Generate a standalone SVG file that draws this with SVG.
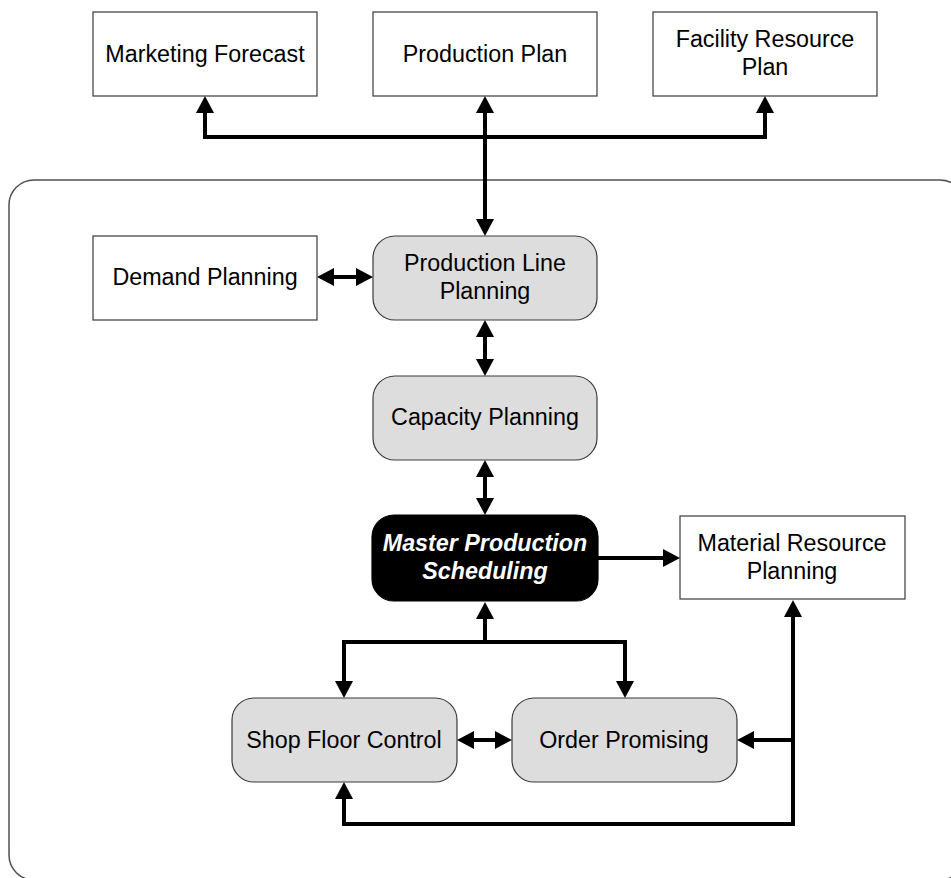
<svg xmlns="http://www.w3.org/2000/svg" width="951" height="878" viewBox="0 0 951 878">
  <style>
    .box { fill: #ffffff; stroke: #3a3a3a; stroke-width: 1.2; }
    .proc { fill: #dddddd; stroke: #3a3a3a; stroke-width: 1.2; }
    .core { fill: #000000; stroke: #000000; stroke-width: 1.2; }
    .lbl { font-family: "Liberation Sans", Arial, sans-serif; font-size: 23.3px; fill: #000000; text-anchor: middle; }
    .lbl-core { font-family: "Liberation Sans", Arial, sans-serif; font-size: 23.3px; font-weight: bold; font-style: italic; fill: #ffffff; text-anchor: middle; }
    .wire { fill: none; stroke: #000000; stroke-width: 4; stroke-linejoin: miter; }
  </style>
  <defs>
    <marker id="head" markerUnits="userSpaceOnUse" markerWidth="18" markerHeight="18" refX="1" refY="9" orient="auto-start-reverse">
      <path d="M0,0 L17,9 L0,18 z" fill="#000000"/>
    </marker>
  </defs>

  <!-- system boundary -->
  <rect id="boundary" x="9" y="180" width="956" height="700" rx="25" ry="25" fill="none" stroke="#505050" stroke-width="1.5"/>

  <!-- external plans -->
  <g id="marketing-forecast">
    <rect class="box" x="93" y="12" width="224" height="84"/>
    <text class="lbl" x="205" y="62">Marketing Forecast</text>
  </g>
  <g id="production-plan">
    <rect class="box" x="373" y="12" width="224" height="84"/>
    <text class="lbl" x="485" y="62">Production Plan</text>
  </g>
  <g id="facility-resource-plan">
    <rect class="box" x="653" y="12" width="224" height="84"/>
    <text class="lbl" x="765" y="47">Facility Resource</text>
    <text class="lbl" x="765" y="75">Plan</text>
  </g>

  <!-- planning functions -->
  <g id="demand-planning">
    <rect class="box" x="93" y="236" width="224" height="84"/>
    <text class="lbl" x="205" y="285">Demand Planning</text>
  </g>
  <g id="production-line-planning">
    <rect class="proc" x="373" y="236" width="224" height="84" rx="22" ry="22"/>
    <text class="lbl" x="485" y="271">Production Line</text>
    <text class="lbl" x="485" y="299">Planning</text>
  </g>
  <g id="capacity-planning">
    <rect class="proc" x="373" y="376" width="224" height="84" rx="22" ry="22"/>
    <text class="lbl" x="485" y="425">Capacity Planning</text>
  </g>
  <g id="master-production-scheduling">
    <rect class="core" x="372" y="515" width="226" height="86" rx="22" ry="22"/>
    <text class="lbl-core" x="485" y="551">Master Production</text>
    <text class="lbl-core" x="485" y="579">Scheduling</text>
  </g>
  <g id="material-resource-planning">
    <rect class="box" x="680" y="516" width="225" height="83"/>
    <text class="lbl" x="792" y="551">Material Resource</text>
    <text class="lbl" x="792" y="579">Planning</text>
  </g>
  <g id="shop-floor-control">
    <rect class="proc" x="232" y="698" width="225" height="84" rx="22" ry="22"/>
    <text class="lbl" x="344" y="748">Shop Floor Control</text>
  </g>
  <g id="order-promising">
    <rect class="proc" x="512" y="698" width="225" height="84" rx="22" ry="22"/>
    <text class="lbl" x="624" y="748">Order Promising</text>
  </g>

  <!-- connectors -->
  <g id="connectors">
    <!-- production line planning <-> production plan -->
    <path class="wire" d="M485,220 L485,112" marker-start="url(#head)" marker-end="url(#head)"/>
    <!-- distribution bus to marketing forecast and facility plan -->
    <path class="wire" d="M205,112 L205,137 L765,137 L765,112" marker-start="url(#head)" marker-end="url(#head)"/>
    <!-- demand planning <-> production line planning -->
    <path class="wire" d="M333,277 L357,277" marker-start="url(#head)" marker-end="url(#head)"/>
    <!-- production line planning <-> capacity planning -->
    <path class="wire" d="M485,336 L485,360" marker-start="url(#head)" marker-end="url(#head)"/>
    <!-- capacity planning <-> master scheduling -->
    <path class="wire" d="M485,476 L485,499" marker-start="url(#head)" marker-end="url(#head)"/>
    <!-- master scheduling -> material resource planning -->
    <path class="wire" d="M598,558 L664,558" marker-end="url(#head)"/>
    <!-- master scheduling feed to shop floor / order promising -->
    <path class="wire" d="M485,618 L485,642"  marker-start="url(#head)"/>
    <path class="wire" d="M344,682 L344,642 L625,642 L625,682" marker-start="url(#head)" marker-end="url(#head)"/>
    <!-- shop floor control <-> order promising -->
    <path class="wire" d="M473,740 L496,740" marker-start="url(#head)" marker-end="url(#head)"/>
    <!-- return loop to material resource planning -->
    <path class="wire" d="M344,798 L344,824 L793,824 L793,616" marker-start="url(#head)" marker-end="url(#head)"/>
    <path class="wire" d="M795,740 L753,740" marker-end="url(#head)"/>
  </g>
</svg>
